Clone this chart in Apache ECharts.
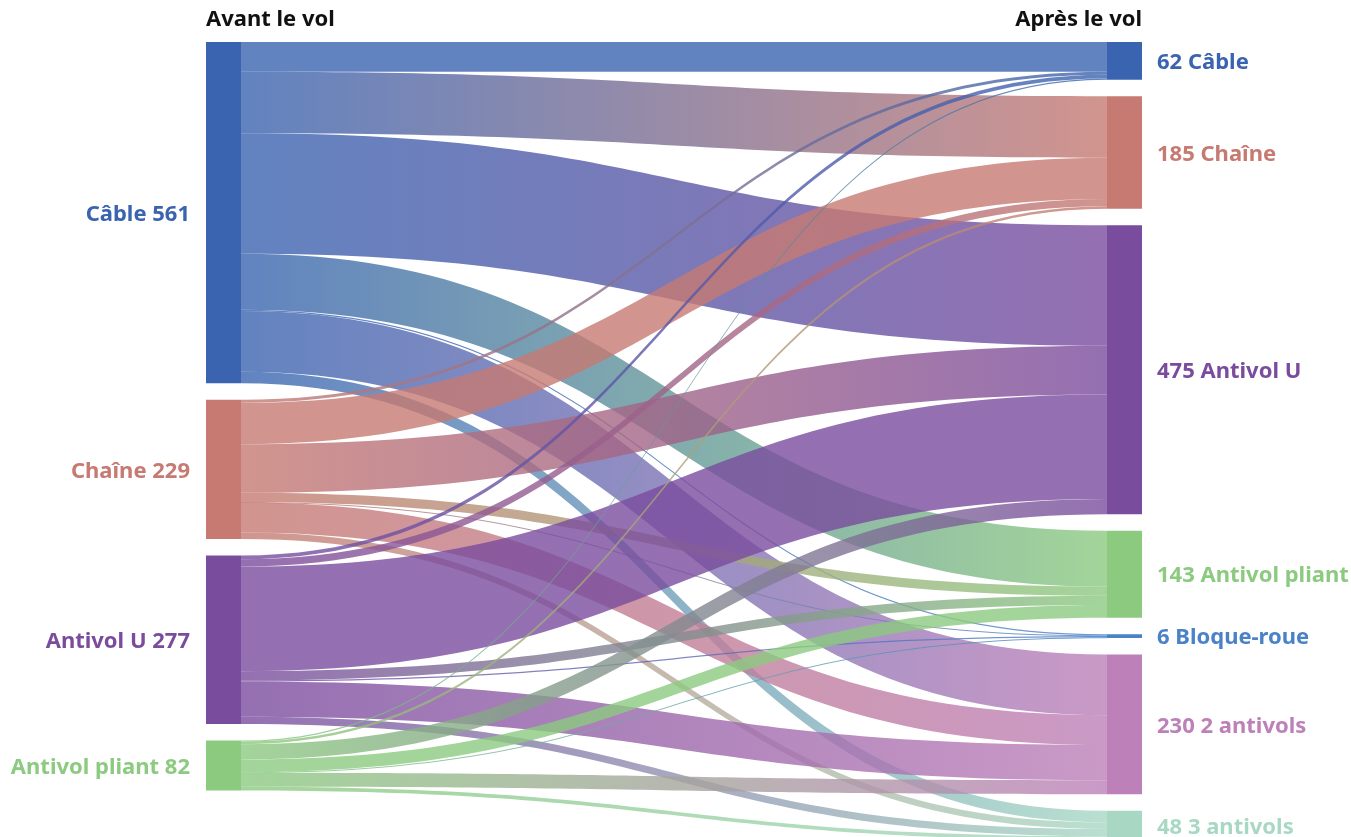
<!DOCTYPE html>
<html lang="fr">
  <head>
    <meta charset="UTF-8" />
    <title>Antivols avant et après le vol</title>
    <style>
      * {
        margin: 0;
        padding: 0;
      }
      body {
        background: #fff;
      }
      #chart {
        width: 1351px;
        height: 837px;
      }
    </style>
    <script src="https://cdn.jsdelivr.net/npm/echarts@6/dist/echarts.min.js"></script>
  </head>
  <body>
    <div id="chart"></div>
    <script>
      // antivol utilisé avant le vol / après le vol
      const before = ["Câble", "Chaîne", "Antivol U", "Antivol pliant"];
      const after = [
        "Câble",
        "Chaîne",
        "Antivol U",
        "Antivol pliant",
        "Bloque-roue",
        "2 antivols",
        "3 antivols",
      ];

      // flux depuis chaque antivol "avant", dans l'ordre de after
      const fromCable = [49, 101, 198, 92, 2, 100, 19];
      const fromChaine = [5, 68, 80, 15, 1, 49, 11];
      const fromAntivolU = [6, 12, 172, 15, 2, 58, 12];
      const fromPliant = [2, 4, 25, 21, 1, 23, 6];
      const flows = [fromCable, fromChaine, fromAntivolU, fromPliant];

      const beforeColors = ["#3a64b0", "#c67a72", "#7a4c9e", "#8cca80"];
      const afterColors = [
        "#3a64b0",
        "#c67a72",
        "#7a4c9e",
        "#8cca80",
        "#4a82c8",
        "#bd80b8",
        "#a8d8c4",
      ];

      const FONT = '"Noto Sans", sans-serif';

      const nodes = [];
      const links = [];

      before.forEach((name, i) => {
        const total = flows[i].reduce((a, b) => a + b, 0);
        nodes.push({
          name: "avant_" + name,
          itemStyle: { color: beforeColors[i] },
          label: {
            position: "left",
            distance: 16,
            color: beforeColors[i],
            formatter: name + " " + total,
          },
        });
      });

      after.forEach((name, j) => {
        const total = flows.reduce((s, row) => s + row[j], 0);
        nodes.push({
          name: "apres_" + name,
          itemStyle: { color: afterColors[j] },
          label: {
            position: "right",
            distance: 15,
            color: afterColors[j],
            formatter: total + " " + name,
          },
        });
      });

      before.forEach((src, i) => {
        after.forEach((tgt, j) => {
          if (flows[i][j] > 0) {
            links.push({
              source: "avant_" + src,
              target: "apres_" + tgt,
              value: flows[i][j],
            });
          }
        });
      });

      const chart = echarts.init(document.getElementById("chart"));
      chart.setOption({
        animation: false,
        graphic: [
          {
            type: "text",
            left: 206,
            top: 9,
            style: {
              text: "Avant le vol",
              font: "bold 22px " + FONT,
              fill: "#111",
            },
          },
          {
            type: "text",
            right: 209,
            top: 9,
            style: {
              text: "Après le vol",
              font: "bold 22px " + FONT,
              fill: "#111",
            },
          },
        ],
        series: [
          {
            type: "sankey",
            left: 206,
            right: 209,
            top: 42,
            bottom: -3,
            nodeWidth: 35,
            nodeGap: 16.5,
            nodeAlign: "justify",
            layoutIterations: 0,
            draggable: false,
            emphasis: { disabled: true },
            itemStyle: { borderWidth: 0 },
            label: {
              fontFamily: FONT,
              fontWeight: "bold",
              fontSize: 22,
              offset: [0, 2],
            },
            lineStyle: {
              color: "gradient",
              opacity: 0.8,
              curveness: 0.5,
            },
            data: nodes,
            links: links,
          },
        ],
      });
    </script>
  </body>
</html>
